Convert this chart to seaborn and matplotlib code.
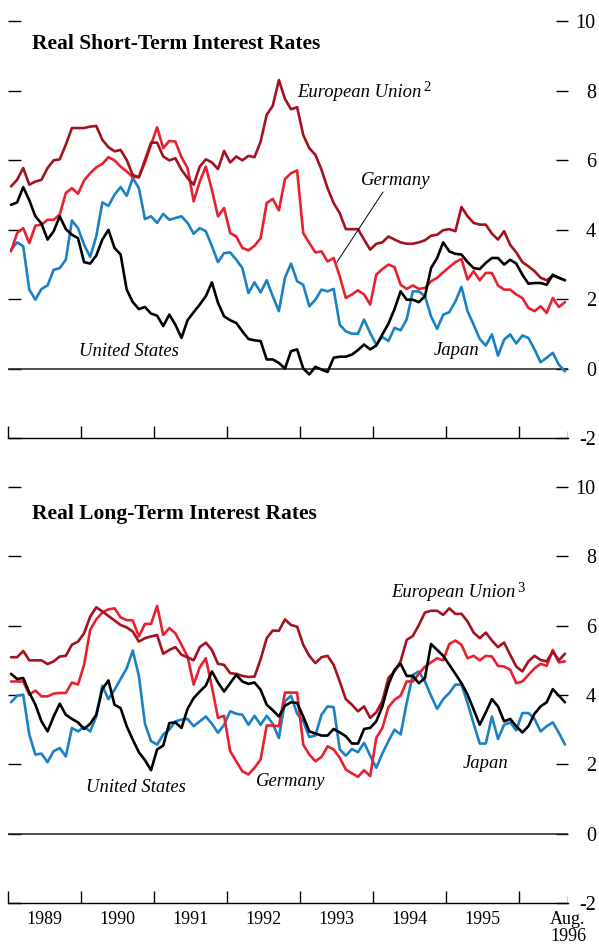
import numpy as np
import pandas as pd
import matplotlib
matplotlib.use("Agg")
import matplotlib.pyplot as plt
import seaborn as sns

# monthly data, Jan 1989 .. Aug 1996 (92 months)
series_names = ["Japan", "Germany", "European Union", "United States"]
year_labels = ["1989", "1990", "1991", "1992", "1993", "1994", "1995", "Aug.\n1996"]

# real short-term rates
st_eu = [5.24, 5.43, 5.77, 5.29, 5.38, 5.43, 5.77, 5.99, 6.02, 6.44, 6.92, 6.92, 6.92, 6.96, 6.98, 6.58,
         6.37, 6.25, 6.29, 6.00, 5.57, 5.50, 6.00, 6.50, 6.50, 6.10, 5.99, 6.05, 5.72, 5.48, 5.29, 5.81,
         6.02, 5.93, 5.74, 6.26, 5.93, 6.10, 5.99, 6.12, 6.08, 6.53, 7.30, 7.56, 8.30, 7.76,
         7.46, 7.52, 6.72, 6.34, 6.15, 5.72, 5.19, 4.76, 4.47, 4.01, 4.01, 4.01, 3.71, 3.42, 3.59, 3.63,
         3.80, 3.71, 3.63, 3.59, 3.59, 3.63, 3.69, 3.82, 3.85, 3.98, 4.01, 3.95, 4.65, 4.38, 4.19, 4.14,
         4.14, 3.88, 3.71, 3.95, 3.56, 3.34, 3.06, 2.94, 2.80, 2.61, 2.54, 2.67, 2.61, 2.54]
st_germany = [3.37, 3.90, 4.04, 3.61, 4.11, 4.14, 4.28, 4.28, 4.43, 5.05, 5.19, 5.03, 5.41, 5.62, 5.79, 5.89,
              6.08, 5.99, 5.81, 5.67, 5.51, 5.51, 5.93, 6.44, 6.94, 6.34, 6.55, 6.53, 6.08, 5.77, 4.81, 5.38,
              5.81, 5.14, 4.38, 4.62, 3.90, 3.80, 3.47, 3.40, 3.53, 3.75, 4.76, 4.88, 4.55, 5.45,
              5.62, 5.70, 3.90, 3.61, 3.34, 3.37, 3.08, 3.18, 2.65, 2.03, 2.13, 2.25, 2.13, 1.84, 2.70, 2.86,
              2.99, 2.92, 2.41, 2.29, 2.39, 2.29, 2.32, 2.51, 2.61, 2.77, 2.92, 3.06, 3.15, 2.56, 2.80, 2.54,
              2.75, 2.75, 2.39, 2.27, 2.27, 2.13, 2.03, 1.74, 1.65, 1.79, 1.60, 2.03, 1.77, 1.91]
st_japan = [3.42, 3.63, 3.52, 2.27, 1.98, 2.29, 2.39, 2.84, 2.89, 3.13, 4.26, 4.04, 3.56, 3.21, 3.80, 4.78,
            4.68, 5.00, 5.22, 4.97, 5.48, 5.19, 4.30, 4.38, 4.19, 4.45, 4.28, 4.33, 4.38, 4.19, 3.88, 4.04,
            3.95, 3.52, 3.06, 3.32, 3.34, 3.13, 2.89, 2.17, 2.48, 2.19, 2.54, 2.08, 1.65, 2.61,
            3.02, 2.51, 2.41, 1.79, 1.98, 2.27, 2.22, 2.29, 1.26, 1.07, 1.00, 1.00, 1.41, 1.02, 0.69, 0.91,
            0.79, 1.17, 1.10, 1.41, 2.22, 2.22, 2.08, 1.50, 1.14, 1.55, 1.62, 1.93, 2.35, 1.65, 1.26, 0.85,
            0.66, 0.98, 0.37, 0.83, 0.98, 0.72, 0.95, 0.88, 0.55, 0.18, 0.31, 0.45, 0.11, -0.08]
st_us = [4.71, 4.78, 5.22, 4.84, 4.38, 4.17, 3.71, 3.95, 4.38, 4.01, 3.85, 3.75, 3.06, 3.02, 3.25, 3.71,
         3.99, 3.47, 3.28, 2.27, 1.91, 1.71, 1.77, 1.58, 1.52, 1.22, 1.55, 1.26, 0.88, 1.39, 1.62, 1.84,
         2.08, 2.48, 1.89, 1.50, 1.39, 1.31, 1.07, 0.85, 0.81, 0.79, 0.26, 0.26, 0.16, 0.00,
         0.50, 0.55, 0.00, -0.17, 0.05, -0.03, -0.10, 0.31, 0.34, 0.34, 0.40, 0.53, 0.69, 0.55, 0.66, 0.98,
         1.29, 1.71, 2.22, 1.98, 1.98, 1.91, 2.08, 2.89, 3.18, 3.63, 3.37, 3.30, 3.28, 3.06, 2.89, 2.86,
         3.04, 3.18, 3.18, 2.99, 3.13, 3.02, 2.70, 2.44, 2.46, 2.46, 2.41, 2.70, 2.61, 2.54]

# real long-term rates
lt_eu = [5.09, 5.09, 5.27, 5.00, 5.00, 5.00, 4.89, 4.97, 5.11, 5.13, 5.45, 5.54, 5.78, 6.26, 6.53, 6.41,
         6.28, 6.15, 6.02, 5.95, 5.83, 5.54, 5.64, 5.69, 5.73, 5.19, 5.30, 5.38, 5.16, 5.09, 5.00, 5.38,
         5.51, 5.30, 4.90, 4.87, 4.63, 4.61, 4.55, 4.52, 4.53, 5.03, 5.64, 5.86, 5.85, 6.18,
         6.02, 5.97, 5.45, 5.13, 4.92, 5.09, 5.13, 4.87, 4.39, 3.88, 3.72, 3.53, 3.67, 3.34, 3.50, 3.82,
         4.49, 4.68, 4.97, 5.59, 5.70, 6.02, 6.38, 6.43, 6.43, 6.31, 6.50, 6.34, 6.34, 6.12, 5.80, 5.64,
         5.80, 5.57, 5.38, 5.51, 5.16, 4.82, 4.68, 4.97, 5.13, 5.01, 4.97, 5.25, 5.00, 5.19]
lt_germany = [4.39, 4.39, 4.39, 4.01, 4.13, 3.96, 3.96, 4.04, 4.06, 4.06, 4.36, 4.30, 4.87, 5.88, 6.18, 6.38,
              6.47, 6.50, 6.24, 6.16, 6.15, 5.69, 6.05, 6.05, 6.57, 5.73, 5.93, 5.78, 5.45, 5.11, 4.30, 4.80,
              5.06, 4.23, 3.34, 3.40, 2.38, 2.09, 1.80, 1.71, 1.90, 2.14, 3.12, 3.12, 3.10, 4.07,
              4.07, 4.07, 2.57, 2.28, 2.09, 2.21, 2.52, 2.43, 2.19, 1.85, 1.74, 1.64, 1.83, 1.66, 2.76, 3.05,
              3.65, 3.86, 3.98, 4.39, 4.39, 4.61, 4.82, 4.94, 5.06, 5.00, 5.47, 5.57, 5.45, 5.06, 5.13, 5.00,
              5.13, 5.11, 4.84, 4.82, 4.73, 4.34, 4.39, 4.58, 4.77, 4.90, 4.84, 5.30, 4.94, 4.97]
lt_japan = [3.79, 3.98, 4.01, 2.86, 2.28, 2.31, 2.06, 2.38, 2.47, 2.23, 3.05, 2.95, 3.08, 2.95, 3.38, 4.27,
            3.88, 4.15, 4.46, 4.77, 5.28, 4.55, 3.17, 2.67, 2.57, 2.86, 3.00, 3.24, 3.29, 3.31, 3.10, 3.24,
            3.38, 3.17, 2.91, 3.14, 3.53, 3.46, 3.43, 3.14, 3.40, 3.14, 3.40, 3.17, 2.76, 3.82,
            3.98, 3.46, 3.24, 2.79, 2.83, 3.43, 3.67, 3.65, 2.43, 2.25, 2.44, 2.35, 2.62, 2.25, 1.90, 2.31,
            2.67, 3.00, 2.86, 3.77, 4.58, 4.68, 4.39, 3.98, 3.60, 3.88, 4.06, 4.30, 4.30, 3.77, 3.17, 2.60,
            2.60, 3.38, 2.73, 3.14, 3.21, 2.98, 3.48, 3.48, 3.31, 2.95, 3.10, 3.21, 2.91, 2.57]
lt_us = [4.61, 4.46, 4.49, 4.07, 3.72, 3.24, 2.95, 3.38, 3.75, 3.43, 3.31, 3.21, 3.02, 3.17, 3.43, 4.17,
         4.42, 3.72, 3.62, 3.10, 2.71, 2.35, 2.12, 1.83, 2.43, 2.54, 3.19, 3.21, 3.05, 3.60, 3.91, 4.10,
         4.27, 4.68, 4.36, 4.10, 4.34, 4.58, 4.39, 4.32, 4.36, 4.15, 3.72, 3.56, 3.38, 3.69,
         3.79, 3.77, 3.38, 2.95, 2.89, 2.83, 2.83, 3.02, 2.92, 2.81, 2.60, 2.60, 3.02, 3.05, 3.24, 3.67,
         4.30, 4.73, 4.90, 4.55, 4.55, 4.34, 4.49, 5.47, 5.30, 5.13, 4.87, 4.61, 4.34, 4.01, 3.58, 3.14,
         3.50, 3.88, 3.67, 3.24, 3.31, 3.10, 2.92, 3.10, 3.46, 3.67, 3.79, 4.17, 3.98, 3.79]

palette = {"Japan": "#1a82c4", "Germany": "#e8202f",
           "European Union": "#a3121f", "United States": "#000000"}


def long_frame(values):
    rows = []
    for name, vals in zip(series_names, values):
        for i, v in enumerate(vals):
            rows.append({"month": i + 0.5, "rate": v, "country": name})
    return pd.DataFrame(rows)


df_st = long_frame([st_japan, st_germany, st_eu, st_us])
df_lt = long_frame([lt_japan, lt_germany, lt_eu, lt_us])

sns.set_theme(style="white")
plt.rcParams["font.family"] = ["Liberation Serif", "DejaVu Serif"]
plt.rcParams["text.color"] = "black"
plt.rcParams["xtick.color"] = "black"
plt.rcParams["ytick.color"] = "black"

fig = plt.figure(figsize=(5.99, 9.46), dpi=100)
W, H = 599, 946
ax1 = fig.add_axes([8 / W, 1 - 438 / H, 560 / W, 417 / H])
ax2 = fig.add_axes([8 / W, 1 - 903 / H, 560 / W, 416 / H])

for ax, df in [(ax1, df_st), (ax2, df_lt)]:
    sns.lineplot(data=df, x="month", y="rate", hue="country", hue_order=series_names,
                 palette=palette, estimator=None, linewidth=1.9, legend=False, ax=ax)
    ax.axhline(0, color="#222222", lw=1.1, zorder=1)
    ax.set_xlim(0, 92)
    ax.set_ylim(-2, 10)
    ax.set_xlabel("")
    ax.set_ylabel("")
    for s in ["top", "left", "right"]:
        ax.spines[s].set_visible(False)
    ax.spines["bottom"].set_color("black")
    ax.spines["bottom"].set_linewidth(1.0)

    ax.set_yticks([-2, 0, 2, 4, 6, 8, 10])
    ax.set_yticklabels(["-2", "0", "2", "4", "6", "8", "10"])
    ax.tick_params(axis="y", left=True, right=True, labelleft=False, labelright=True,
                   direction="in", length=9, width=1.0, color="black", labelcolor="black",
                   pad=20, labelsize=14.5)
    for lab in ax.get_yticklabels():
        lab.set_horizontalalignment("right")

    ax.set_xticks(np.arange(0, 85, 12))
    ax.set_xticks(list(np.arange(6, 80, 12)) + [92], minor=True)
    ax.tick_params(axis="x", which="major", bottom=True, direction="in", length=9,
                   width=1.0, color="black", labelbottom=False)
    ax.tick_params(axis="x", which="minor", bottom=True, length=0, labelsize=13,
                   labelcolor="black", pad=6)
    ax.axvline(92, ymin=0, ymax=0.016, color="black", lw=1.0)
    ax.grid(False)

ax1.set_xticklabels([], minor=True)
ax2.set_xticklabels(year_labels, minor=True)
for lab in ax2.get_xticklabels(minor=True):
    lab.set_linespacing(0.95)


def px_text(x, y, s, **kw):
    fig.text(x / W, 1 - y / H, s, va="baseline", ha="left", color="black", **kw)


title_kw = dict(fontsize=15.5, fontweight="bold")
px_text(32, 49, "Real Short-Term Interest Rates", **title_kw)
px_text(32, 519, "Real Long-Term Interest Rates", **title_kw)

lab_kw = dict(fontsize=13.4, style="italic")
px_text(297, 97, "European Union", **lab_kw)
px_text(423, 91, "2", fontsize=10.5)
px_text(361, 185, "Germany", **lab_kw)
px_text(79, 356, "United States", **lab_kw)
px_text(434, 355, "Japan", **lab_kw)

px_text(391, 597, "European Union", **lab_kw)
px_text(517, 592, "3", fontsize=10.5)
px_text(86, 792, "United States", **lab_kw)
px_text(256, 786, "Germany", **lab_kw)
px_text(463, 768, "Japan", **lab_kw)

# leader line from the Germany label to its line
fig.add_artist(plt.Line2D([383 / W, 337 / W], [1 - 192 / H, 1 - 262 / H],
                          color="black", lw=0.7))

fig.savefig("out.png", dpi=100)
